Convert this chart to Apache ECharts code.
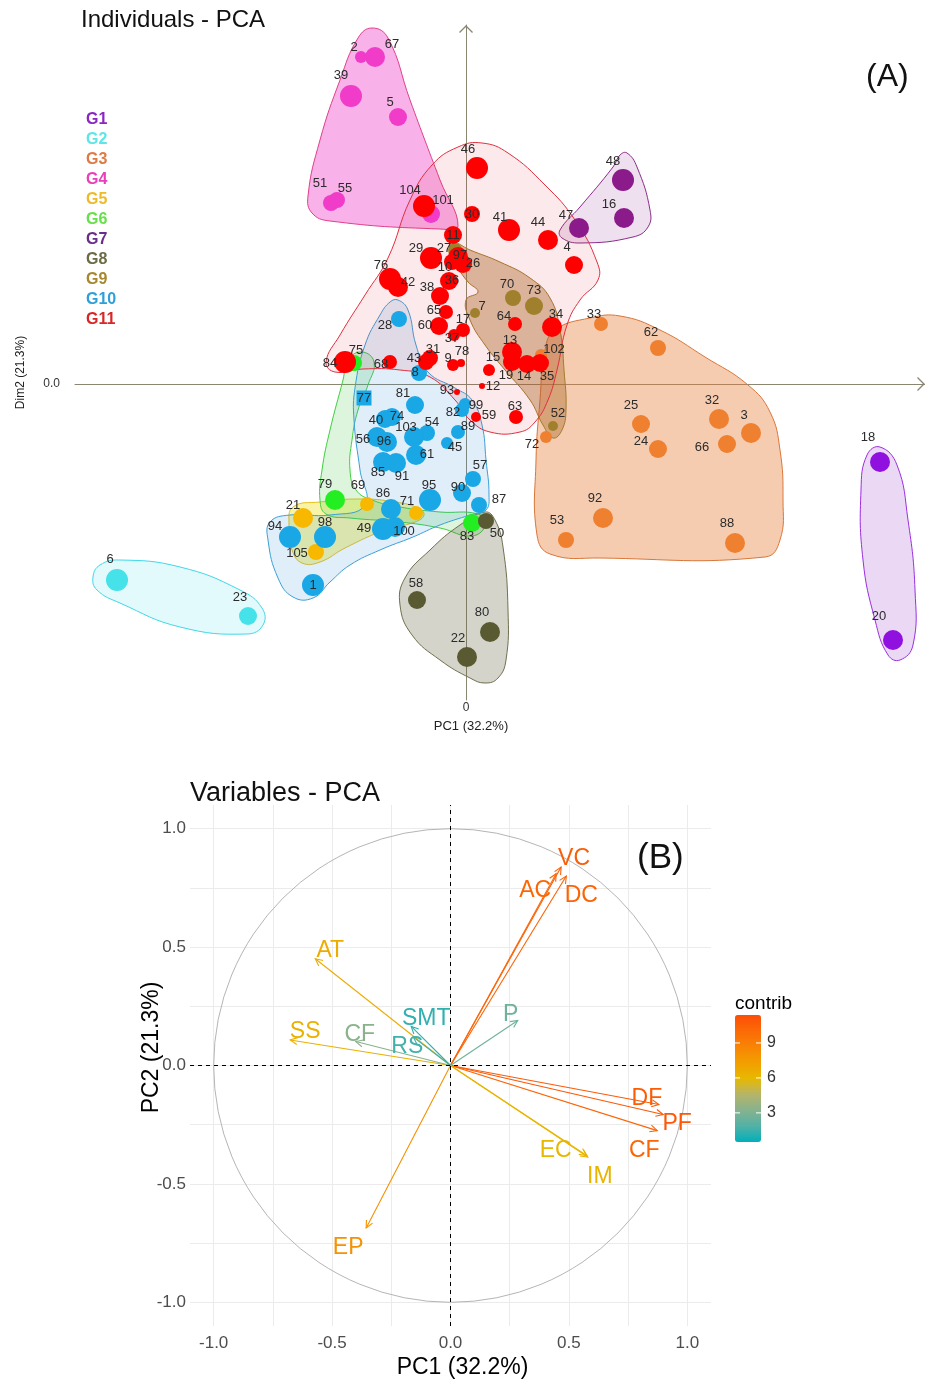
<!DOCTYPE html>
<html><head><meta charset="utf-8">
<script src="https://cdn.jsdelivr.net/npm/echarts@6/dist/echarts.min.js"></script>
<style>html,body{margin:0;padding:0;background:#fff}#chart{width:925px;height:1381px}</style>
</head><body><div id="chart"></div>
<script>
// ================= DATA =================
const groupNames = ['G1','G2','G3','G4','G5','G6','G7','G8','G9','G10','G11'];

// individuals (PC1, PC2 scores, quality cos2)
const indId = [18,20, 6,23,
  33,62,102,72,25,24,32,3,66,92,53,88,
  2,67,39,5,51,55,101,
  21,105,69,71,
  75,79,83,
  48,16,47,
  50,58,80,22,
  70,73,7,27,52,
  28,77,81,40,74,54,103,56,96,45,61,85,91,57,95,90,87,86,49,100,94,98,1,8,99,82,89,
  104,46,30,41,44,4,11,29,97,26,10,76,42,36,38,65,60,17,37,64,34,31,43,9,78,68,84,15,13,19,14,35,12,93,59,63];
const indGroup = ['G1','G1','G2','G2',
  'G3','G3','G3','G3','G3','G3','G3','G3','G3','G3','G3','G3',
  'G4','G4','G4','G4','G4','G4','G4',
  'G5','G5','G5','G5',
  'G6','G6','G6',
  'G7','G7','G7',
  'G8','G8','G8','G8',
  'G9','G9','G9','G9','G9',
  'G10','G10','G10','G10','G10','G10','G10','G10','G10','G10','G10','G10','G10','G10','G10','G10','G10','G10','G10','G10','G10','G10','G10','G10','G10','G10','G10',
  'G11','G11','G11','G11','G11','G11','G11','G11','G11','G11','G11','G11','G11','G11','G11','G11','G11','G11','G11','G11','G11','G11','G11','G11','G11','G11','G11','G11','G11','G11','G11','G11','G11','G11','G11','G11'];
const indPC1 = [8.28,8.54, -6.98,-4.36,
  2.70,3.84,1.50,1.60,3.50,3.84,5.06,5.70,5.22,2.74,2.00,5.38,
  -2.10,-1.82,-2.30,-1.36,-2.70,-2.58,-0.70,
  -3.26,-3.00,-1.98,-1.00,
  -2.24,-2.62,0.12,
  3.14,3.16,2.26,
  0.40,-0.98,0.48,0.02,
  0.94,1.36,0.18,-0.22,1.74,
  -1.34,-2.04,-1.02,-1.62,-1.48,-0.78,-1.04,-1.78,-1.58,-0.38,-1.00,-1.66,-1.40,0.14,-0.72,-0.08,0.26,-1.50,-1.66,-1.42,-3.52,-2.82,-3.06,-0.94,-0.02,-0.08,-0.16,
  -0.84,0.22,0.12,0.86,1.64,2.16,-0.26,-0.70,-0.16,-0.06,-0.28,-1.52,-1.36,-0.34,-0.52,-0.40,-0.54,-0.06,-0.24,0.98,1.72,-0.72,-0.80,-0.26,-0.10,-1.52,-2.42,0.46,0.92,0.92,1.22,1.48,0.32,-0.18,0.20,1.00];
const indPC2 = [-1.56,-5.12, -3.92,-4.64,
  1.20,0.72,0.58,-1.06,-0.80,-1.30,-0.70,-0.98,-1.20,-2.68,-3.12,-3.18,
  6.54,6.54,5.76,5.34,3.62,3.68,3.40,
  -2.68,-3.36,-2.40,-2.58,
  0.42,-2.32,-2.78,
  4.08,3.32,3.12,
  -2.74,-4.32,-4.96,-5.46,
  1.72,1.56,1.42,2.68,-0.84,
  1.30,-0.28,-0.42,-0.70,-0.66,-0.98,-1.06,-1.06,-1.16,-1.18,-1.42,-1.56,-1.58,-1.90,-2.32,-2.18,-2.42,-2.50,-2.90,-2.86,-3.06,-3.06,-4.02,0.22,-0.40,-0.52,-0.96,
  3.56,4.32,3.40,3.08,2.88,2.38,2.98,2.52,2.54,2.40,2.44,2.10,1.94,2.06,1.76,1.44,1.16,1.08,0.98,1.20,1.14,0.52,0.44,0.38,0.42,0.44,0.44,0.28,0.64,0.44,0.40,0.42,-0.04,-0.16,-0.66,-0.66];
const indCos2 = [0.8,0.8, 0.9,0.7,
  0.5,0.6,0.4,0.4,0.7,0.7,0.8,0.8,0.7,0.8,0.6,0.8,
  0.4,0.8,0.9,0.7,0.6,0.6,0.7,
  0.8,0.6,0.5,0.5,
  0.6,0.8,0.7,
  0.9,0.8,0.8,
  0.6,0.7,0.8,0.8,
  0.6,0.7,0.3,0.5,0.3,
  0.6,0.7,0.7,0.7,0.7,0.6,0.8,0.8,0.8,0.4,0.8,0.8,0.8,0.6,0.9,0.7,0.6,0.8,0.9,0.8,0.9,0.9,0.9,0.6,0.4,0.5,0.5,
  0.9,0.9,0.6,0.9,0.8,0.7,0.7,0.9,0.8,0.7,0.6,0.9,0.8,0.7,0.7,0.5,0.7,0.5,0.4,0.5,0.8,0.6,0.6,0.4,0.2,0.5,0.9,0.4,0.8,0.7,0.7,0.7,0.1,0.1,0.3,0.5];

// group envelopes (PC1, PC2 outline vertices)
const hullG1 = [[8.28,-1.26],[8.62,-1.62],[8.84,-2.72],[8.98,-4.12],[8.94,-5.22],[8.68,-5.52],[8.44,-5.42],[8.18,-4.72],[7.94,-3.52],[7.90,-2.12],[8.02,-1.42]];
const hullG2 = [[-7.46,-3.86],[-7.32,-3.62],[-6.92,-3.52],[-5.72,-3.66],[-4.52,-4.12],[-4.08,-4.48],[-4.06,-4.82],[-4.38,-5.00],[-5.72,-4.86],[-6.92,-4.38],[-7.38,-4.12]];
const hullG3 = [[1.78,1.08],[2.48,1.32],[3.08,1.36],[3.88,1.08],[4.78,0.54],[5.64,-0.02],[6.08,-0.56],[6.28,-1.32],[6.34,-2.32],[6.28,-3.12],[5.98,-3.46],[2.68,-3.48],[1.68,-3.40],[1.42,-3.02],[1.40,-1.52],[1.48,-0.32],[1.58,0.68]];
const hullG4 = [[-1.88,7.12],[-1.56,6.92],[-1.12,5.68],[-0.52,4.08],[-0.16,3.16],[-0.52,3.10],[-2.72,3.26],[-3.08,3.42],[-3.16,3.76],[-2.92,4.88],[-2.52,6.08],[-2.16,6.92]];
const hullG5 = [[-3.46,-2.46],[-2.92,-2.36],[-2.12,-2.30],[-1.42,-2.36],[-0.96,-2.48],[-0.84,-2.62],[-1.02,-2.76],[-1.62,-2.92],[-2.42,-3.28],[-2.92,-3.56],[-3.28,-3.58],[-3.48,-3.32],[-3.54,-2.82]];
const hullG6 = [[-2.46,0.08],[-2.36,0.48],[-2.08,0.64],[-1.84,0.44],[-1.96,-0.02],[-2.16,-0.52],[-2.28,-1.12],[-2.32,-1.72],[-2.20,-2.12],[-1.88,-2.32],[-1.32,-2.46],[-0.52,-2.56],[0.24,-2.60],[0.40,-2.80],[0.12,-3.04],[-0.52,-2.88],[-1.32,-2.76],[-2.32,-2.68],[-2.80,-2.60],[-2.92,-2.32],[-2.88,-1.72],[-2.72,-0.92]];
const hullG7 = [[3.22,4.62],[3.42,4.34],[3.68,3.48],[3.64,3.14],[3.34,2.94],[2.28,2.82],[1.92,2.92],[1.88,3.08],[2.28,3.54],[2.94,4.34],[3.08,4.58]];
const hullG8 = [[0.38,-2.56],[0.58,-2.72],[0.74,-3.26],[0.84,-4.52],[0.80,-5.52],[0.64,-5.88],[0.38,-5.98],[0.08,-5.88],[-0.52,-5.52],[-1.08,-5.02],[-1.32,-4.42],[-1.22,-3.88],[-0.72,-3.32],[-0.12,-2.82]];
const hullG9 = [[-0.28,2.84],[0.08,2.68],[0.68,2.44],[1.28,2.12],[1.68,1.72],[1.88,1.08],[1.96,0.28],[2.00,-0.52],[1.92,-0.92],[1.74,-1.08],[1.54,-0.82],[1.28,-0.32],[0.78,0.28],[0.38,0.78],[0.08,1.28],[0.00,1.68],[0.24,1.84],[0.04,2.04],[-0.16,2.32],[-0.32,2.64]];
const hullG10 = [[-1.36,1.68],[-1.16,1.48],[-1.00,0.78],[-0.76,0.24],[-0.22,-0.08],[0.12,-0.32],[0.32,-0.82],[0.40,-1.52],[0.46,-2.22],[0.40,-2.52],[0.08,-2.62],[-0.52,-2.82],[-1.06,-3.06],[-1.72,-3.32],[-2.32,-3.62],[-2.72,-3.96],[-3.06,-4.28],[-3.46,-4.26],[-3.76,-3.88],[-3.96,-3.12],[-3.92,-2.76],[-3.52,-2.62],[-2.72,-2.62],[-2.02,-2.42],[-2.12,-1.72],[-2.24,-0.72],[-2.22,-0.08],[-2.02,0.78],[-1.72,1.38],[-1.52,1.64]];
const hullG11 = [[0.84,4.62],[1.58,3.98],[2.18,3.28],[2.62,2.44],[2.64,2.08],[2.28,1.68],[2.02,1.18],[1.82,0.28],[1.64,-0.32],[1.38,-0.76],[1.08,-0.96],[0.48,-0.96],[0.08,-0.72],[-0.22,-0.32],[-0.72,0.14],[-1.32,0.28],[-2.06,0.30],[-2.62,0.24],[-2.80,0.44],[-2.52,0.98],[-2.02,1.78],[-1.56,2.52],[-1.12,3.68],[-0.68,4.38],[-0.16,4.74],[0.32,4.82]];

// variables (loadings and contributions)
const varNames = ['VC','AC','DC','AT','SS','CF','SMT','RS','P','DF','PF','CF','EC','IM','EP'];
const varPC1 = [0.467,0.446,0.489,-0.571,-0.677,-0.400,-0.166,-0.157,0.284,0.880,0.898,0.873,0.575,0.580,-0.356];
const varPC2 = [0.838,0.810,0.800,0.451,0.108,0.101,0.165,0.120,0.190,-0.165,-0.207,-0.275,-0.380,-0.387,-0.686];
const varContrib = [10.6,10.2,10.4,6.6,6.3,3.3,1.3,1.6,2.6,10.7,10.9,10.3,6.0,6.2,8.0];

// tick labels
const indXTicks = [0];
const indYTicks = [0];
const varTicks = [-1,-0.5,0,0.5,1];
const varGridBreaks = [-1,-0.75,-0.5,-0.25,0,0.25,0.5,0.75,1];
const contribTicks = [3,6,9];

// ================= STYLE =================
const FONT = '"Liberation Sans", Arial, sans-serif';
const hulls = {G1:hullG1,G2:hullG2,G3:hullG3,G4:hullG4,G5:hullG5,G6:hullG6,G7:hullG7,G8:hullG8,G9:hullG9,G10:hullG10,G11:hullG11};
const pointColor = {G1:'#9010E0',G2:'#45E2EA',G3:'#EE8030',G4:'#F03CC8',G5:'#F8B800',G6:'#22EE22',G7:'#8B1A8B',G8:'#5A5A32',G9:'#A0802D',G10:'#1AA7E6',G11:'#FF0000'};
const legendColor = {G1:'#8B26C0',G2:'#5CE6E6',G3:'#E07A45',G4:'#E840B8',G5:'#EFBA2A',G6:'#66E04A',G7:'#6A2D8A',G8:'#6B6B45',G9:'#A8882E',G10:'#2E9FD9',G11:'#D92626'};
const hullFill = {G1:'rgba(150,60,200,0.2)',G2:'rgba(64,224,232,0.15)',G3:'rgba(232,128,60,0.4)',G4:'rgba(240,60,200,0.4)',G5:'rgba(240,230,60,0.45)',G6:'rgba(60,200,60,0.18)',G7:'rgba(140,50,140,0.15)',G8:'rgba(100,100,70,0.28)',G9:'rgba(170,110,40,0.42)',G10:'rgba(50,140,220,0.15)',G11:'rgba(230,40,60,0.1)'};
const hullStroke = {G1:'#9B30E0',G2:'#40D8E8',G3:'#D9773A',G4:'#E0408A',G5:'#E8C020',G6:'#40D040',G7:'#8B2C8B',G8:'#707050',G9:'#A07D2A',G10:'#3AA0D8',G11:'#E03040'};
const squareIds = [77];
const labelOffset = {2:[-7,-10],67:[17,-13],39:[-10,-21],5:[-8,-15],51:[-11,-20],55:[8,-12],104:[-14,-16],101:[12,-14],46:[-9,-19],30:[0,0],41:[-9,-13],44:[-10,-18],47:[-13,-13],48:[-10,-19],16:[-15,-14],4:[-7,-18],11:[0,0],29:[-15,-10],27:[-11,-2],97:[2,-2],26:[10,-1],10:[-7,5],76:[-9,-14],42:[10,-5],38:[-13,-9],36:[3,-1],65:[-12,-2],60:[-14,-1],17:[0,-11],37:[-2,3],70:[-6,-14],73:[0,-16],7:[7,-7],64:[-11,-8],34:[4,-13],33:[-7,-10],62:[-7,-16],28:[-14,6],75:[2,-13],84:[-15,1],68:[-9,2],43:[-12,-4],31:[3,-9],9:[-5,-7],78:[1,-12],15:[4,-13],13:[-2,-12],102:[13,-6],19:[-6,13],14:[-3,12],35:[7,13],12:[11,0],8:[-4,-1],93:[-10,-2],77:[0,0],81:[-12,-12],99:[11,1],82:[-9,2],59:[13,-2],63:[-1,-11],52:[5,-13],72:[-14,7],25:[-10,-19],32:[-7,-19],3:[-7,-18],24:[-17,-8],66:[-25,3],18:[-12,-25],20:[-14,-24],40:[-9,1],74:[5,-1],54:[5,-11],103:[-8,-10],89:[10,-6],56:[-14,2],96:[-3,-1],45:[8,4],61:[11,-1],85:[-5,10],91:[6,13],57:[7,-14],95:[-1,-15],90:[-4,-6],87:[20,-6],79:[-10,-16],69:[-9,-19],86:[-8,-16],71:[-9,-12],21:[-10,-13],98:[0,-15],94:[-15,-11],49:[-19,-1],100:[9,4],83:[-5,13],50:[11,12],105:[-19,1],1:[0,0],92:[-8,-20],53:[-9,-20],88:[-8,-20],6:[-7,-21],23:[-8,-19],58:[-1,-17],80:[-8,-20],22:[-9,-19]};
const varLabelOffset = [[13,-8],[-21,17],[15,20],[15,-8],[15,-8],[4,-7],[15,-8],[-6,10],[-7,-6],[-12,-6],[14,9],[-13,20],[-31,-5],[12,20],[-18,20]];
const chevron = 'path://M0,10L10,0L20,10L18.6,11.3L10,2.8L1.4,11.3Z';
const AXC = '#8a8672';
const vm = {min:0.5, max:11.4, left:735, top:1015, w:26, h:127};
// gradient stops approximating a perceptual (Lab) blend teal -> gold -> orange-red
const contribColors = ['#00AFBB','#52B1A6','#86B28F','#B6B46A','#E7B800','#F29E00','#F88404','#FB6A06','#FC4E07'];

// ================= BUILD =================
const scatterSeries = groupNames.map(g => {
  const data = [];
  indId.forEach((id, i) => {
    if (indGroup[i] !== g) return;
    const item = {value:[indPC1[i], indPC2[i], indCos2[i], id], label:{offset: labelOffset[id] || [-8,-17]}};
    if (squareIds.includes(id)) { item.symbol = 'rect'; item.symbolSize = 15; }
    data.push(item);
  });
  return {
    name: g, type:'scatter', xAxisIndex:0, yAxisIndex:0, data,
    symbolSize: v => 4 + 20 * v[2],
    itemStyle:{color: pointColor[g], opacity:1},
    label:{show:true, position:'inside', formatter: p => String(p.value[3]), color:'#2b2b2b', fontSize:13, fontFamily:FONT},
    emphasis:{disabled:true}, z:3
  };
});

const hullSeries = {
  type:'custom', xAxisIndex:0, yAxisIndex:0, silent:true, clip:false, z:1,
  data: groupNames.map(() => [0,0]),
  renderItem: (params, api) => {
    const g = groupNames[params.dataIndex];
    const pts = hulls[g].map(p => api.coord(p));
    return {type:'polygon', shape:{points:pts, smooth:0.45}, style:{fill:hullFill[g], stroke:hullStroke[g], lineWidth:1}};
  }
};

const circleSeries = {
  type:'custom', xAxisIndex:2, yAxisIndex:2, silent:true, clip:false, z:2,
  data:[[0,0]],
  renderItem: (params, api) => {
    const c = api.coord([0,0]);
    const r = api.size([1,0])[0];
    return {type:'circle', shape:{cx:c[0], cy:c[1], r}, style:{fill:null, stroke:'#b5b5b5', lineWidth:1}};
  },
  markLine:{silent:true, symbol:'none', label:{show:false}, lineStyle:{type:[4,4], color:'#000', width:1},
    data:[{xAxis:0},{yAxis:0}], animation:false}
};

const arrowSeries = {
  type:'custom', xAxisIndex:2, yAxisIndex:2, silent:true, clip:false, z:4,
  dimensions:['PC1','PC2','contrib'],
  encode:{x:0, y:1},
  data: varNames.map((n,i) => [varPC1[i], varPC2[i], varContrib[i]]),
  renderItem: (params, api) => {
    const i = params.dataIndex;
    const o = api.coord([0,0]);
    const t = api.coord([api.value(0), api.value(1)]);
    const color = api.visual('color');
    const ang = Math.atan2(t[1]-o[1], t[0]-o[0]);
    const L = 8, A = Math.PI/7;
    const p1 = [t[0] - L*Math.cos(ang - A), t[1] - L*Math.sin(ang - A)];
    const p2 = [t[0] - L*Math.cos(ang + A), t[1] - L*Math.sin(ang + A)];
    const off = varLabelOffset[i];
    return {type:'group', children:[
      {type:'line', shape:{x1:o[0], y1:o[1], x2:t[0], y2:t[1]}, style:{stroke:color, lineWidth:1.1}},
      {type:'polyline', shape:{points:[p1,t,p2]}, style:{stroke:color, fill:null, lineWidth:1.1}},
      {type:'text', x:t[0]+off[0], y:t[1]+off[1], style:{text:varNames[i], fill:color, fontSize:23, fontFamily:FONT, align:'center', verticalAlign:'middle'}}
    ]};
  }
};

const cbGraphics = [];
contribTicks.forEach(v => {
  const y = vm.top + (vm.max - v) / (vm.max - vm.min) * vm.h;
  cbGraphics.push({type:'line', shape:{x1:vm.left, y1:y, x2:vm.left+5, y2:y}, style:{stroke:'#fff', lineWidth:1}, z:100});
  cbGraphics.push({type:'line', shape:{x1:vm.left+vm.w-5, y1:y, x2:vm.left+vm.w, y2:y}, style:{stroke:'#fff', lineWidth:1}, z:100});
  cbGraphics.push({type:'text', x:vm.left+vm.w+6, y:y, style:{text:String(v), fill:'#333', fontSize:16, fontFamily:FONT, verticalAlign:'middle'}, z:100});
});
cbGraphics.push({type:'text', x:vm.left, y:vm.top-2, style:{text:'contrib', fill:'#000', fontSize:19, fontFamily:FONT, verticalAlign:'bottom'}, z:100});

const option = {
  backgroundColor:'#fff',
  animation:false,
  textStyle:{fontFamily:FONT},
  title:[
    {text:'Individuals - PCA', left:76, top:3, textStyle:{fontSize:24, fontWeight:'normal', color:'#111', fontFamily:FONT}},
    {text:'(A)', left:861, top:56, textStyle:{fontSize:32, fontWeight:'normal', color:'#111', fontFamily:FONT}},
    {text:'Variables - PCA', left:185, top:775, textStyle:{fontSize:27, fontWeight:'normal', color:'#111', fontFamily:FONT}},
    {text:'(B)', left:632, top:836, textStyle:{fontSize:35, fontWeight:'normal', color:'#111', fontFamily:FONT}}
  ],
  legend:{
    orient:'vertical', left:76, top:107, itemWidth:0, itemHeight:0, itemGap:4, icon:'circle', selectedMode:false,
    data: groupNames.map(g => ({name:g, textStyle:{color:legendColor[g]}})),
    textStyle:{fontSize:16, fontWeight:'bold', fontFamily:FONT}
  },
  grid:[
    {left:75, top:25, width:850, height:675},
    {left:190, top:805, width:521, height:521}
  ],
  xAxis:[
    {gridIndex:0, type:'value', min:-7.82, max:9.18,
      axisLine:{show:false, onZero:false}, axisTick:{show:false}, splitLine:{show:false},
      axisLabel:{customValues:indXTicks, margin:2, fontSize:12, color:'#333', formatter: v => String(v)},
      name:'PC1 (32.2%)', nameLocation:'middle', nameGap:20, nameMoveOverlap:false, nameTextStyle:{fontSize:13, color:'#222', padding:[0,58,0,0]}},
    {gridIndex:0, type:'value', min:-7.82, max:9.18,
      axisLine:{show:true, onZero:true, onZeroAxisIndex:0, symbol:['none', chevron], symbolSize:[14,8], symbolOffset:[0,-4], lineStyle:{color:AXC, width:1}},
      axisTick:{show:false}, axisLabel:{show:false}, splitLine:{show:false}},
    {gridIndex:1, type:'value', min:-1.1, max:1.1,
      axisLine:{show:false, onZero:false},
      axisTick:{show:false, customValues:varGridBreaks},
      axisLabel:{customValues:varTicks, formatter: v => v.toFixed(1), fontSize:17, color:'#4d4d4d', margin:9},
      splitLine:{show:true, lineStyle:{color:'#ebebeb', width:1}},
      name:'PC1 (32.2%)', nameLocation:'middle', nameGap:30, nameMoveOverlap:false, nameTextStyle:{fontSize:23, color:'#000', padding:[0,0,0,24]}}
  ],
  yAxis:[
    {gridIndex:0, type:'value', min:-6.32, max:7.18,
      axisLine:{show:false, onZero:false}, axisTick:{show:false}, splitLine:{show:false},
      axisLabel:{customValues:indYTicks, margin:15, fontSize:12, color:'#333', formatter: v => v.toFixed(1)},
      name:'Dim2 (21.3%)', nameLocation:'middle', nameGap:48, nameRotate:90, nameMoveOverlap:false, nameTextStyle:{fontSize:12, color:'#222', padding:[0,20,0,0]}},
    {gridIndex:0, type:'value', min:-6.32, max:7.18,
      axisLine:{show:true, onZero:true, onZeroAxisIndex:0, symbol:['none', chevron], symbolSize:[14,8], symbolOffset:[0,-4], lineStyle:{color:AXC, width:1}},
      axisTick:{show:false}, axisLabel:{show:false}, splitLine:{show:false}},
    {gridIndex:1, type:'value', min:-1.1, max:1.1,
      axisLine:{show:false, onZero:false},
      axisTick:{show:false, customValues:varGridBreaks},
      axisLabel:{customValues:varTicks, formatter: v => v.toFixed(1), fontSize:17, color:'#4d4d4d', margin:4},
      splitLine:{show:true, lineStyle:{color:'#ebebeb', width:1}},
      name:'PC2 (21.3%)', nameLocation:'middle', nameGap:27, nameRotate:90, nameMoveOverlap:false, nameTextStyle:{fontSize:23, color:'#000', padding:[0,0,0,36]}}
  ],
  visualMap:{
    type:'continuous', seriesIndex: 13, dimension:2,
    min:vm.min, max:vm.max, inRange:{color:contribColors},
    left:vm.left, top:vm.top, itemWidth:vm.w, itemHeight:vm.h, padding:0,
    calculable:false, orient:'vertical', text:null, show:true, hoverLink:false
  },
  graphic: cbGraphics,
  series: [hullSeries, ...scatterSeries, circleSeries, arrowSeries]
};
// series index: 0 hull, 1..11 scatter, 12 circle, 13 arrows
option.visualMap.seriesIndex = 1 + groupNames.length + 1;

const chart = echarts.init(document.getElementById('chart'), null, {renderer:'canvas', width:925, height:1381});
chart.setOption(option);
</script>
</body></html>
